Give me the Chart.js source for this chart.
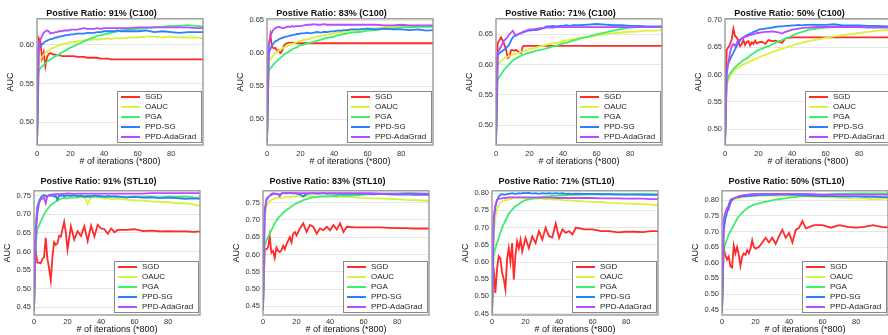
<!DOCTYPE html>
<html>
<head>
<meta charset="utf-8">
<script src="https://cdn.jsdelivr.net/npm/chart.js@4.4.0/dist/chart.umd.min.js"></script>
<style>
  html, body { margin: 0; padding: 0; background: #fff; }
  #wrap { position: relative; width: 888px; height: 335px; overflow: hidden; }
  #wrap canvas { position: absolute; }
</style>
</head>
<body>
<div id="wrap"></div>
<script>
// iterations (*800)
const X = [0,1,2,3,4,5,6,7,8,9,10,11,12,13,14,15,16,17,18,19,20,
  22,24,26,28,30,32,34,36,38,40,42,44,46,48,50,
  55,60,65,70,75,80,85,90,95,99];

const methods = ['SGD', 'OAUC', 'PGA', 'PPD-SG', 'PPD-AdaGrad'];
const titles = [
  'Postive Ratio: 91% (C100)', 'Postive Ratio: 83% (C100)',
  'Postive Ratio: 71% (C100)', 'Postive Ratio: 50% (C100)',
  'Postive Ratio: 91% (STL10)', 'Postive Ratio: 83% (STL10)',
  'Postive Ratio: 71% (STL10)', 'Postive Ratio: 50% (STL10)'
];

// ---- C100, 91% ----
const c100_91_sgd = [0.470,0.608,0.604,0.582,0.590,0.572,0.584,0.588,0.589,0.588,0.587,0.587,0.586,0.586,0.586,0.585,0.585,0.585,0.585,0.585,0.585,
  0.585,0.584,0.584,0.584,0.583,0.583,0.583,0.583,0.582,0.582,0.582,0.581,0.581,0.581,0.581,
  0.581,0.581,0.581,0.581,0.581,0.581,0.581,0.581,0.581,0.581];
const c100_91_oauc = [0.470,0.576,0.581,0.584,0.587,0.589,0.591,0.592,0.594,0.595,0.596,0.597,0.598,0.599,0.600,0.600,0.601,0.601,0.602,0.602,0.603,
  0.603,0.604,0.605,0.605,0.606,0.606,0.607,0.606,0.607,0.607,0.608,0.607,0.608,0.608,0.608,
  0.609,0.609,0.610,0.610,0.609,0.610,0.609,0.609,0.609,0.608];
const c100_91_pga = [0.470,0.566,0.570,0.572,0.574,0.576,0.578,0.579,0.581,0.582,0.584,0.585,0.586,0.587,0.589,0.590,0.591,0.592,0.594,0.595,0.596,
  0.598,0.600,0.602,0.604,0.606,0.608,0.609,0.611,0.612,0.613,0.614,0.615,0.616,0.617,0.618,
  0.619,0.620,0.621,0.622,0.623,0.624,0.624,0.625,0.624,0.623];
const c100_91_ppdsg = [0.470,0.595,0.598,0.600,0.602,0.604,0.605,0.606,0.607,0.607,0.608,0.609,0.609,0.610,0.610,0.611,0.611,0.612,0.612,0.612,0.613,
  0.613,0.614,0.614,0.614,0.615,0.615,0.615,0.616,0.616,0.617,0.617,0.617,0.617,0.618,0.617,
  0.617,0.617,0.618,0.616,0.617,0.616,0.615,0.616,0.616,0.616];
const c100_91_ada = [0.470,0.600,0.606,0.611,0.615,0.617,0.618,0.617,0.614,0.615,0.615,0.616,0.616,0.617,0.617,0.617,0.618,0.618,0.618,0.618,0.619,
  0.619,0.619,0.620,0.621,0.620,0.620,0.620,0.621,0.620,0.621,0.621,0.621,0.621,0.621,0.621,
  0.621,0.622,0.622,0.622,0.622,0.622,0.622,0.622,0.621,0.621];

// ---- C100, 83% ----
const c100_83_sgd = [0.465,0.610,0.628,0.610,0.607,0.608,0.603,0.605,0.600,0.603,0.611,0.614,0.615,0.616,0.616,0.616,0.616,0.615,0.615,0.615,0.615,
  0.615,0.615,0.615,0.615,0.615,0.615,0.615,0.615,0.615,0.615,0.615,0.615,0.615,0.615,0.615,
  0.615,0.615,0.615,0.615,0.615,0.615,0.615,0.615,0.615,0.615];
const c100_83_oauc = [0.465,0.585,0.590,0.594,0.597,0.600,0.602,0.604,0.606,0.607,0.608,0.610,0.611,0.612,0.613,0.614,0.615,0.616,0.617,0.618,0.619,
  0.620,0.621,0.622,0.624,0.625,0.626,0.627,0.628,0.629,0.630,0.631,0.632,0.632,0.633,0.634,
  0.635,0.637,0.638,0.639,0.640,0.641,0.641,0.641,0.641,0.641];
const c100_83_pga = [0.465,0.573,0.577,0.580,0.583,0.586,0.588,0.591,0.593,0.595,0.598,0.599,0.601,0.602,0.604,0.606,0.607,0.608,0.609,0.611,0.612,
  0.613,0.615,0.616,0.617,0.619,0.620,0.622,0.623,0.624,0.625,0.627,0.628,0.629,0.630,0.631,
  0.632,0.634,0.635,0.637,0.637,0.639,0.639,0.640,0.640,0.640];
const c100_83_ppdsg = [0.465,0.600,0.606,0.612,0.615,0.618,0.619,0.621,0.622,0.623,0.624,0.625,0.625,0.626,0.627,0.627,0.628,0.628,0.629,0.629,0.630,
  0.630,0.631,0.630,0.631,0.632,0.631,0.632,0.632,0.633,0.633,0.634,0.634,0.635,0.635,0.636,
  0.636,0.637,0.636,0.637,0.636,0.636,0.635,0.636,0.634,0.635];
const c100_83_ada = [0.465,0.612,0.625,0.632,0.636,0.638,0.639,0.640,0.639,0.638,0.638,0.639,0.640,0.640,0.640,0.641,0.640,0.641,0.641,0.641,0.641,
  0.642,0.643,0.643,0.644,0.643,0.643,0.644,0.643,0.643,0.643,0.643,0.643,0.643,0.643,0.643,
  0.643,0.643,0.643,0.642,0.642,0.643,0.642,0.642,0.642,0.642];

// ---- C100, 71% ----
const c100_71_sgd = [0.470,0.636,0.640,0.645,0.640,0.633,0.625,0.611,0.613,0.624,0.624,0.623,0.624,0.622,0.620,0.619,0.630,0.631,0.631,0.631,0.631,
  0.631,0.631,0.631,0.631,0.631,0.631,0.631,0.631,0.631,0.631,0.631,0.631,0.631,0.631,0.631,
  0.631,0.631,0.631,0.631,0.631,0.631,0.631,0.631,0.631,0.631];
const c100_71_oauc = [0.470,0.598,0.603,0.606,0.608,0.611,0.612,0.613,0.614,0.615,0.617,0.617,0.618,0.619,0.620,0.621,0.622,0.623,0.624,0.625,0.626,
  0.627,0.628,0.630,0.631,0.633,0.634,0.635,0.636,0.637,0.639,0.640,0.641,0.642,0.643,0.644,
  0.646,0.648,0.650,0.652,0.653,0.654,0.655,0.656,0.656,0.657];
const c100_71_pga = [0.470,0.575,0.580,0.584,0.588,0.592,0.595,0.598,0.601,0.604,0.607,0.609,0.610,0.612,0.613,0.615,0.616,0.617,0.618,0.619,0.620,
  0.621,0.623,0.624,0.625,0.627,0.628,0.630,0.631,0.633,0.635,0.636,0.638,0.640,0.641,0.643,
  0.646,0.650,0.653,0.656,0.659,0.661,0.662,0.662,0.662,0.662];
const c100_71_ppdsg = [0.470,0.615,0.619,0.621,0.623,0.625,0.627,0.630,0.634,0.640,0.645,0.647,0.648,0.650,0.651,0.652,0.653,0.654,0.655,0.656,0.656,
  0.657,0.657,0.658,0.660,0.663,0.663,0.664,0.663,0.664,0.664,0.665,0.664,0.665,0.665,0.665,
  0.666,0.667,0.666,0.665,0.665,0.664,0.664,0.663,0.663,0.663];
const c100_71_ada = [0.470,0.620,0.625,0.630,0.635,0.640,0.643,0.646,0.650,0.653,0.656,0.651,0.648,0.650,0.651,0.652,0.654,0.655,0.656,0.657,0.658,
  0.658,0.659,0.660,0.660,0.661,0.661,0.661,0.662,0.662,0.662,0.662,0.662,0.662,0.662,0.662,
  0.662,0.662,0.662,0.662,0.662,0.662,0.662,0.662,0.662,0.662];

// ---- C100, 50% ----
const c100_50_sgd = [0.470,0.645,0.650,0.655,0.664,0.684,0.670,0.668,0.660,0.652,0.656,0.663,0.654,0.660,0.661,0.653,0.659,0.656,0.662,0.657,0.659,
  0.660,0.656,0.663,0.661,0.662,0.660,0.658,0.666,0.667,0.668,0.668,0.668,0.668,0.668,0.668,
  0.668,0.668,0.668,0.668,0.668,0.668,0.668,0.668,0.668,0.668];
const c100_50_oauc = [0.470,0.580,0.590,0.597,0.602,0.606,0.609,0.611,0.613,0.615,0.617,0.618,0.620,0.621,0.622,0.624,0.625,0.627,0.628,0.630,0.631,
  0.634,0.636,0.638,0.641,0.643,0.645,0.647,0.649,0.651,0.653,0.655,0.657,0.658,0.660,0.661,
  0.664,0.667,0.670,0.672,0.674,0.676,0.678,0.680,0.681,0.681];
const c100_50_pga = [0.470,0.585,0.595,0.602,0.606,0.610,0.613,0.616,0.619,0.621,0.624,0.626,0.628,0.630,0.632,0.635,0.637,0.639,0.641,0.643,0.645,
  0.647,0.650,0.652,0.655,0.658,0.661,0.663,0.666,0.668,0.671,0.674,0.676,0.678,0.680,0.682,
  0.684,0.686,0.687,0.688,0.688,0.689,0.689,0.688,0.688,0.688];
const c100_50_ppdsg = [0.470,0.610,0.620,0.628,0.634,0.640,0.646,0.652,0.657,0.662,0.666,0.668,0.670,0.672,0.673,0.675,0.676,0.678,0.679,0.680,0.682,
  0.683,0.684,0.685,0.686,0.687,0.688,0.688,0.689,0.689,0.690,0.690,0.691,0.690,0.691,0.691,
  0.691,0.691,0.692,0.690,0.690,0.690,0.689,0.689,0.688,0.688];
const c100_50_ada = [0.470,0.600,0.622,0.640,0.652,0.656,0.652,0.658,0.663,0.664,0.666,0.667,0.669,0.670,0.671,0.672,0.673,0.674,0.675,0.676,0.676,
  0.677,0.678,0.678,0.679,0.678,0.677,0.675,0.678,0.680,0.682,0.683,0.684,0.685,0.686,0.686,
  0.687,0.687,0.687,0.687,0.687,0.687,0.686,0.686,0.686,0.686];

// ---- STL10, 91% ----
const stl_91_sgd = [0.560,0.605,0.570,0.570,0.568,0.580,0.585,0.637,0.580,0.555,0.522,0.585,0.625,0.618,0.622,0.642,0.640,0.660,0.680,0.650,0.605,
  0.668,0.632,0.655,0.642,0.668,0.628,0.670,0.640,0.672,0.662,0.660,0.648,0.662,0.652,0.658,
  0.658,0.660,0.655,0.656,0.654,0.655,0.654,0.654,0.653,0.654];
const stl_91_oauc = [0.440,0.680,0.720,0.735,0.740,0.745,0.748,0.745,0.750,0.752,0.750,0.753,0.748,0.745,0.738,0.750,0.752,0.754,0.750,0.755,0.758,
  0.755,0.750,0.752,0.748,0.750,0.728,0.748,0.745,0.748,0.745,0.742,0.744,0.740,0.742,0.742,
  0.740,0.738,0.737,0.735,0.734,0.733,0.730,0.730,0.727,0.722];
const stl_91_pga = [0.440,0.620,0.660,0.670,0.680,0.690,0.700,0.708,0.714,0.720,0.725,0.728,0.731,0.735,0.738,0.740,0.742,0.743,0.745,0.742,0.744,
  0.745,0.746,0.745,0.748,0.746,0.747,0.745,0.749,0.746,0.748,0.747,0.746,0.748,0.747,0.748,
  0.746,0.748,0.747,0.748,0.746,0.748,0.747,0.748,0.746,0.745];
const stl_91_ppdsg = [0.440,0.660,0.720,0.735,0.745,0.750,0.752,0.750,0.748,0.752,0.750,0.751,0.748,0.750,0.740,0.752,0.750,0.751,0.749,0.750,0.751,
  0.750,0.752,0.749,0.751,0.748,0.750,0.749,0.751,0.750,0.749,0.748,0.750,0.748,0.749,0.748,
  0.746,0.747,0.745,0.746,0.744,0.745,0.744,0.742,0.743,0.742];
const stl_91_ada = [0.440,0.640,0.700,0.730,0.740,0.742,0.745,0.730,0.750,0.752,0.753,0.754,0.754,0.755,0.755,0.754,0.755,0.755,0.755,0.756,0.756,
  0.756,0.755,0.756,0.756,0.756,0.756,0.756,0.756,0.756,0.756,0.756,0.756,0.756,0.756,0.756,
  0.756,0.756,0.756,0.757,0.757,0.757,0.757,0.757,0.757,0.757];

// ---- STL10, 83% ----
const stl_83_sgd = [0.440,0.615,0.615,0.620,0.653,0.605,0.610,0.590,0.620,0.610,0.607,0.612,0.625,0.615,0.630,0.640,0.650,0.635,0.660,0.665,0.655,
  0.675,0.690,0.665,0.685,0.680,0.660,0.675,0.670,0.680,0.670,0.685,0.672,0.690,0.665,0.680,
  0.678,0.678,0.678,0.678,0.677,0.676,0.676,0.675,0.675,0.675];
const stl_83_oauc = [0.440,0.700,0.740,0.745,0.755,0.757,0.760,0.762,0.765,0.764,0.765,0.763,0.762,0.765,0.767,0.766,0.765,0.767,0.768,0.766,0.770,
  0.768,0.766,0.770,0.767,0.769,0.766,0.768,0.770,0.767,0.768,0.769,0.766,0.768,0.766,0.767,
  0.765,0.763,0.762,0.762,0.761,0.760,0.758,0.757,0.756,0.755];
const stl_83_pga = [0.440,0.625,0.640,0.650,0.660,0.670,0.680,0.690,0.698,0.705,0.710,0.715,0.720,0.724,0.728,0.732,0.735,0.739,0.742,0.745,0.748,
  0.752,0.757,0.760,0.763,0.765,0.766,0.767,0.767,0.768,0.768,0.769,0.769,0.770,0.770,0.770,
  0.771,0.773,0.775,0.776,0.776,0.776,0.777,0.777,0.776,0.775];
const stl_83_ppdsg = [0.440,0.730,0.755,0.765,0.770,0.772,0.775,0.776,0.775,0.774,0.773,0.776,0.778,0.777,0.776,0.777,0.778,0.777,0.776,0.777,0.776,
  0.774,0.768,0.775,0.776,0.777,0.775,0.776,0.777,0.775,0.776,0.776,0.775,0.776,0.775,0.776,
  0.775,0.776,0.774,0.775,0.774,0.773,0.774,0.772,0.773,0.772];
const stl_83_ada = [0.440,0.720,0.760,0.765,0.770,0.775,0.777,0.776,0.776,0.775,0.768,0.776,0.777,0.777,0.778,0.777,0.777,0.778,0.777,0.777,0.777,
  0.777,0.777,0.777,0.777,0.777,0.777,0.777,0.777,0.777,0.777,0.777,0.777,0.777,0.777,0.777,
  0.777,0.777,0.777,0.776,0.776,0.776,0.776,0.776,0.776,0.776];

// ---- STL10, 71% ----
const stl_71_sgd = [0.450,0.583,0.510,0.580,0.617,0.610,0.570,0.550,0.520,0.610,0.640,0.600,0.655,0.549,0.620,0.660,0.640,0.665,0.630,0.650,0.670,
  0.640,0.675,0.655,0.690,0.665,0.700,0.675,0.672,0.712,0.670,0.695,0.685,0.690,0.680,0.700,
  0.695,0.695,0.690,0.690,0.686,0.688,0.688,0.687,0.690,0.690];
const stl_71_oauc = [0.450,0.680,0.730,0.755,0.765,0.772,0.775,0.778,0.780,0.780,0.782,0.783,0.785,0.786,0.787,0.786,0.788,0.787,0.787,0.786,0.786,
  0.785,0.786,0.784,0.785,0.784,0.783,0.782,0.783,0.781,0.782,0.780,0.779,0.780,0.778,0.778,
  0.776,0.775,0.774,0.772,0.771,0.770,0.769,0.768,0.767,0.765];
const stl_71_pga = [0.450,0.620,0.640,0.655,0.670,0.685,0.700,0.710,0.720,0.730,0.740,0.746,0.752,0.757,0.762,0.765,0.768,0.772,0.775,0.778,0.780,
  0.782,0.784,0.786,0.788,0.790,0.790,0.791,0.792,0.792,0.793,0.794,0.794,0.795,0.795,0.795,
  0.796,0.797,0.797,0.798,0.798,0.797,0.798,0.798,0.797,0.797];
const stl_71_ppdsg = [0.450,0.720,0.760,0.780,0.790,0.795,0.797,0.796,0.796,0.797,0.798,0.799,0.800,0.799,0.798,0.799,0.800,0.799,0.800,0.801,0.800,
  0.801,0.799,0.800,0.798,0.800,0.799,0.800,0.799,0.800,0.799,0.800,0.798,0.799,0.798,0.799,
  0.798,0.798,0.797,0.797,0.796,0.796,0.796,0.795,0.795,0.795];
const stl_71_ada = [0.450,0.730,0.765,0.780,0.784,0.784,0.785,0.786,0.786,0.787,0.788,0.788,0.788,0.788,0.788,0.788,0.788,0.788,0.788,0.788,0.788,
  0.788,0.788,0.788,0.787,0.787,0.787,0.787,0.787,0.786,0.786,0.786,0.786,0.786,0.786,0.786,
  0.786,0.786,0.785,0.785,0.785,0.784,0.784,0.784,0.783,0.783];

// ---- STL10, 50% ----
const stl_50_sgd = [0.440,0.648,0.625,0.610,0.620,0.589,0.585,0.655,0.630,0.650,0.625,0.590,0.620,0.630,0.625,0.640,0.630,0.645,0.672,0.650,0.645,
  0.650,0.665,0.680,0.665,0.680,0.660,0.685,0.705,0.680,0.695,0.665,0.705,0.712,0.733,0.710,
  0.720,0.720,0.712,0.720,0.715,0.712,0.715,0.720,0.715,0.713];
const stl_50_oauc = [0.440,0.700,0.760,0.775,0.785,0.795,0.800,0.802,0.805,0.805,0.805,0.808,0.810,0.810,0.811,0.812,0.812,0.813,0.813,0.814,0.815,
  0.815,0.815,0.814,0.815,0.815,0.815,0.815,0.815,0.815,0.815,0.814,0.813,0.813,0.812,0.812,
  0.811,0.810,0.809,0.808,0.807,0.806,0.805,0.803,0.804,0.806];
const stl_50_pga = [0.440,0.645,0.660,0.675,0.690,0.700,0.710,0.720,0.730,0.740,0.748,0.754,0.760,0.765,0.770,0.774,0.778,0.780,0.783,0.785,0.787,
  0.790,0.793,0.795,0.797,0.800,0.802,0.803,0.805,0.806,0.808,0.809,0.810,0.812,0.813,0.815,
  0.816,0.818,0.819,0.820,0.821,0.822,0.822,0.822,0.822,0.822];
const stl_50_ppdsg = [0.440,0.700,0.740,0.760,0.785,0.800,0.805,0.806,0.808,0.809,0.810,0.811,0.812,0.812,0.813,0.813,0.814,0.814,0.815,0.815,0.815,
  0.816,0.816,0.817,0.817,0.817,0.817,0.818,0.818,0.818,0.818,0.817,0.817,0.816,0.816,0.815,
  0.814,0.813,0.813,0.812,0.812,0.812,0.811,0.811,0.810,0.810];
const stl_50_ada = [0.440,0.740,0.760,0.775,0.770,0.790,0.800,0.805,0.808,0.810,0.813,0.814,0.815,0.816,0.817,0.817,0.818,0.819,0.819,0.820,0.820,
  0.820,0.820,0.820,0.820,0.820,0.820,0.820,0.820,0.820,0.820,0.820,0.820,0.820,0.820,0.820,
  0.819,0.818,0.818,0.818,0.818,0.818,0.818,0.818,0.818,0.818];

const panelSeries = [
  [c100_91_sgd, c100_91_oauc, c100_91_pga, c100_91_ppdsg, c100_91_ada],
  [c100_83_sgd, c100_83_oauc, c100_83_pga, c100_83_ppdsg, c100_83_ada],
  [c100_71_sgd, c100_71_oauc, c100_71_pga, c100_71_ppdsg, c100_71_ada],
  [c100_50_sgd, c100_50_oauc, c100_50_pga, c100_50_ppdsg, c100_50_ada],
  [stl_91_sgd, stl_91_oauc, stl_91_pga, stl_91_ppdsg, stl_91_ada],
  [stl_83_sgd, stl_83_oauc, stl_83_pga, stl_83_ppdsg, stl_83_ada],
  [stl_71_sgd, stl_71_oauc, stl_71_pga, stl_71_ppdsg, stl_71_ada],
  [stl_50_sgd, stl_50_oauc, stl_50_pga, stl_50_ppdsg, stl_50_ada]
];

// y-axis ranges per panel
const yMins = [0.471, 0.461, 0.4675, 0.471, 0.429, 0.425, 0.446, 0.433];
const yMaxs = [0.633, 0.652, 0.6756, 0.702, 0.7635, 0.784, 0.807, 0.830];

// ---- styling / layout ----
const colors = ['#ff2a2a', '#d9f23a', '#3ded6d', '#2a7fff', '#b84cff'];
const FONT = '"Liberation Sans", Arial, Helvetica, sans-serif';
const YAX = 37, PLOT_W = 166, CH = 167;
const canvasLeft = [0, 230, 459, 688, -3, 226, 455, 685];

Chart.defaults.font.family = FONT;
Chart.defaults.color = '#222';

const frameLegend = {
  id: 'frameLegend',
  afterDatasetsDraw(chart) {
    const { ctx, chartArea: a } = chart;
    ctx.save();
    ctx.strokeStyle = '#939393';
    ctx.lineWidth = 1.3;
    ctx.strokeRect(a.left, a.top, a.right - a.left, a.bottom - a.top);
    const w = 84, h = 51;
    const x = Math.round(a.right - w - 2), y = Math.round(a.bottom - h - 3);
    ctx.fillStyle = '#fff';
    ctx.fillRect(x, y, w, h);
    ctx.strokeStyle = '#888';
    ctx.lineWidth = 1;
    ctx.strokeRect(x + 0.5, y + 0.5, w, h);
    ctx.font = '8px ' + FONT;
    ctx.textBaseline = 'middle';
    chart.data.datasets.forEach((d, i) => {
      const yy = y + 6 + i * 10;
      ctx.strokeStyle = d.borderColor;
      ctx.lineWidth = 2;
      ctx.beginPath();
      ctx.moveTo(x + 4, yy);
      ctx.lineTo(x + 23, yy);
      ctx.stroke();
      ctx.fillStyle = '#222';
      ctx.fillText(d.label, x + 28, yy);
    });
    ctx.restore();
  }
};

const wrap = document.getElementById('wrap');
panelSeries.forEach((series, p) => {
  const row = p < 4 ? 0 : 1;
  const cv = document.createElement('canvas');
  cv.width = YAX + PLOT_W + YAX;
  cv.height = CH;
  cv.style.left = canvasLeft[p] + 'px';
  cv.style.top = (row * 168) + 'px';
  wrap.appendChild(cv);

  new Chart(cv, {
    type: 'line',
    data: {
      datasets: series.map((ys, i) => ({
        label: methods[i],
        data: X.map((x, k) => ({ x: x, y: ys[k] })),
        borderColor: colors[i],
        backgroundColor: colors[i],
        borderWidth: 1.8,
        pointRadius: 0,
        tension: 0,
        order: 4 - i
      }))
    },
    options: {
      responsive: false,
      animation: false,
      layout: { padding: { left: 0, right: YAX, top: 0, bottom: 0 } },
      plugins: {
        legend: { display: false },
        tooltip: { enabled: false },
        title: {
          display: true,
          text: titles[p],
          color: '#111',
          font: { size: 9, weight: 'bold' },
          padding: { top: 8, bottom: row ? 4 : 0 }
        }
      },
      scales: {
        x: {
          type: 'linear',
          min: 0,
          max: 99,
          ticks: { stepSize: 20, includeBounds: false, maxRotation: 0, color: '#333', font: { size: 7.5 }, padding: row ? 2 : 4 },
          grid: { display: false, drawTicks: false },
          border: { display: false },
          title: { display: true, text: '# of iterations (*800)', color: '#111', font: { size: 9 }, padding: 0 },
          afterFit(s) { s.height = row ? 20 : 22; }
        },
        y: {
          min: yMins[p],
          max: yMaxs[p],
          ticks: {
            stepSize: 0.05, includeBounds: false, color: '#333', font: { size: 7.5 }, padding: 3,
            callback: v => v.toFixed(2)
          },
          grid: { color: '#e6e6e6', drawTicks: false },
          border: { display: false },
          title: { display: true, text: 'AUC', color: '#111', font: { size: 9 }, padding: { top: 5, bottom: 0 } },
          afterFit(s) { s.width = YAX; }
        }
      }
    },
    plugins: [frameLegend]
  });
});
</script>
</body>
</html>
